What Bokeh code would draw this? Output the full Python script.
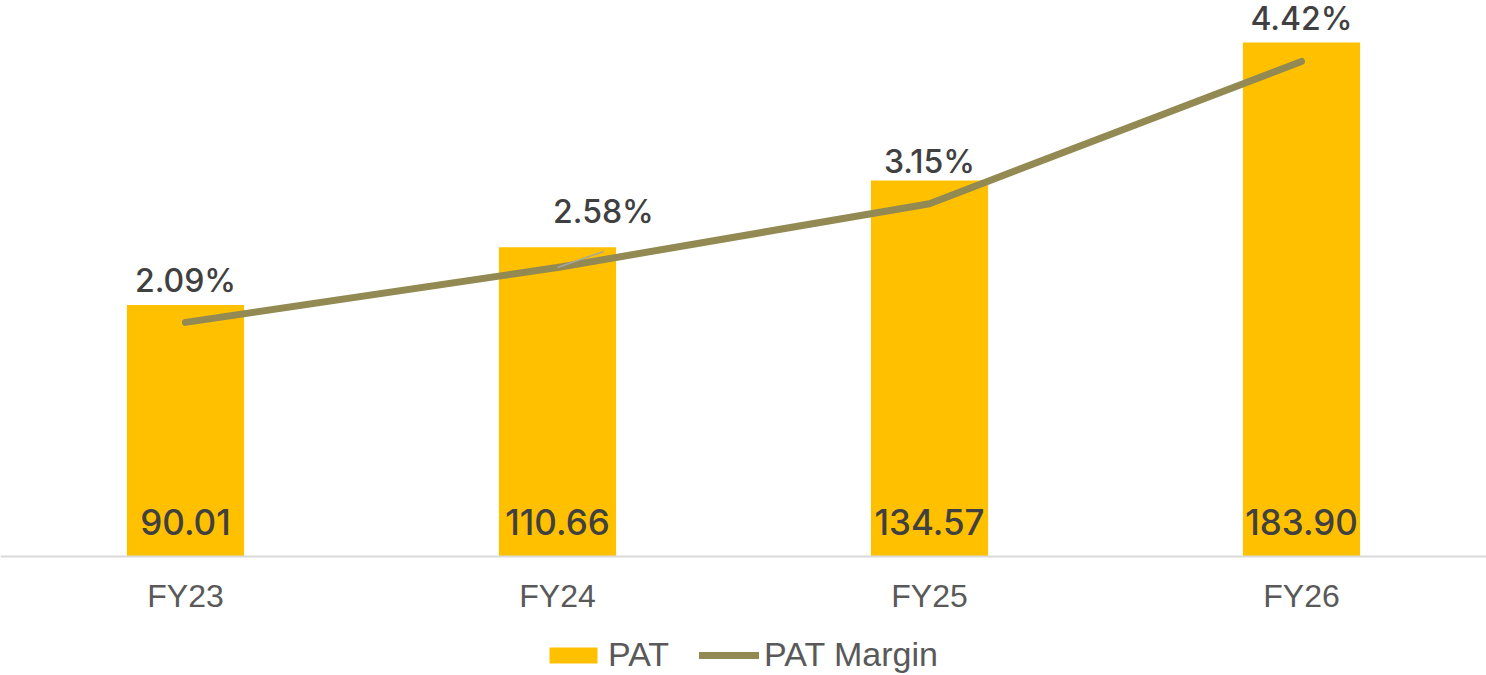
from bokeh.plotting import figure
from bokeh.models import (Range1d, ColumnDataSource, LabelSet, Span,
                          Legend, LegendItem)
from bokeh.core.properties import value
from bokeh.embed import file_html
from bokeh.resources import INLINE

# ---- data ----
years = ["FY23", "FY24", "FY25", "FY26"]
pat = [90.01, 110.66, 134.57, 183.90]
pat_margin = [2.09, 2.58, 3.15, 4.42]
pat_labels = ["90.01", "110.66", "134.57", "183.90"]
margin_labels = ["2.09%", "2.58%", "3.15%", "4.42%"]

# ---- style (label placement in screen pixels) ----
margin_label_dx = [0, 46, 0, 0]
margin_label_dy = [30, 45, 31, 31]

BAR = "#FFC000"
LINE = "#938953"
LABEL = "#404040"
AXIS_TXT = "#595959"
DATA_FONT = "Inter Medium, Inter"
AXIS_FONT = "Liberation Sans"

xs = list(range(len(years)))

p = figure(frame_width=1486, frame_height=675, output_backend="svg",
           toolbar_location=None, y_axis_location=None, x_axis_location=None,
           x_range=Range1d(-0.4973, 3.4973), y_range=Range1d(-42.58, 198.93),
           min_border_left=0, min_border_right=0, min_border_top=0,
           min_border_bottom=0)
p.extra_y_ranges = {"m": Range1d(-1.0625, 4.964)}
p.outline_line_color = None
p.xgrid.visible = False
p.ygrid.visible = False
p.background_fill_color = "white"

src = ColumnDataSource(dict(x=xs, pat=pat, m=pat_margin, pl=pat_labels,
                            ml=margin_labels, dx=margin_label_dx,
                            dy=margin_label_dy, zero=[0] * len(xs),
                            cat=years))

bars = p.vbar(x="x", top="pat", bottom=0, width=0.315, source=src,
              fill_color=BAR, line_color=None)

# category axis baseline
p.add_layout(Span(location=0, dimension="width", line_color="#D9D9D9",
                  line_width=2))

line = p.line(x="x", y="m", source=src, y_range_name="m", line_color=LINE,
              line_width=7, line_cap="round", line_join="round")

# leader line for the moved FY24 label
i = 1
p.segment(x0=[xs[i]], y0=[pat_margin[i]],
          x1=[xs[i] + margin_label_dx[i] / 372.0],
          y1=[pat_margin[i] + (margin_label_dy[i] - 29) / 112.0],
          y_range_name="m", line_color="#A6A6A6", line_width=1.5)

# category tick labels
cat_lbl = LabelSet(x="x", y="zero", text="cat", source=src, y_offset=-51,
                   text_align="center", text_baseline="alphabetic",
                   text_font=value(AXIS_FONT), text_font_size="32px",
                   text_color=AXIS_TXT)
p.add_layout(cat_lbl)

bar_lbl = LabelSet(x="x", y="zero", text="pl", source=src, y_offset=21,
                   text_align="center", text_baseline="alphabetic",
                   text_font=value(DATA_FONT), text_font_size="35px",
                   text_color=LABEL)
p.add_layout(bar_lbl)

m_lbl = LabelSet(x="x", y="m", text="ml", source=src, y_range_name="m",
                 x_offset="dx", y_offset="dy", text_align="center",
                 text_baseline="alphabetic", text_font=value(DATA_FONT),
                 text_font_size="32px", text_color=LABEL)
p.add_layout(m_lbl)

legend = Legend(items=[LegendItem(label="PAT", renderers=[bars]),
                       LegendItem(label="PAT Margin", renderers=[line])],
                orientation="horizontal", location=(543, 1),
                glyph_width=60, glyph_height=20, label_standoff=5,
                spacing=30, padding=0, margin=0,
                label_text_font=AXIS_FONT,
                label_text_font_size="34px", label_text_color=AXIS_TXT,
                border_line_color=None, background_fill_alpha=0)
p.add_layout(legend, "center")

open("out.html", "w").write(file_html(p, INLINE))
